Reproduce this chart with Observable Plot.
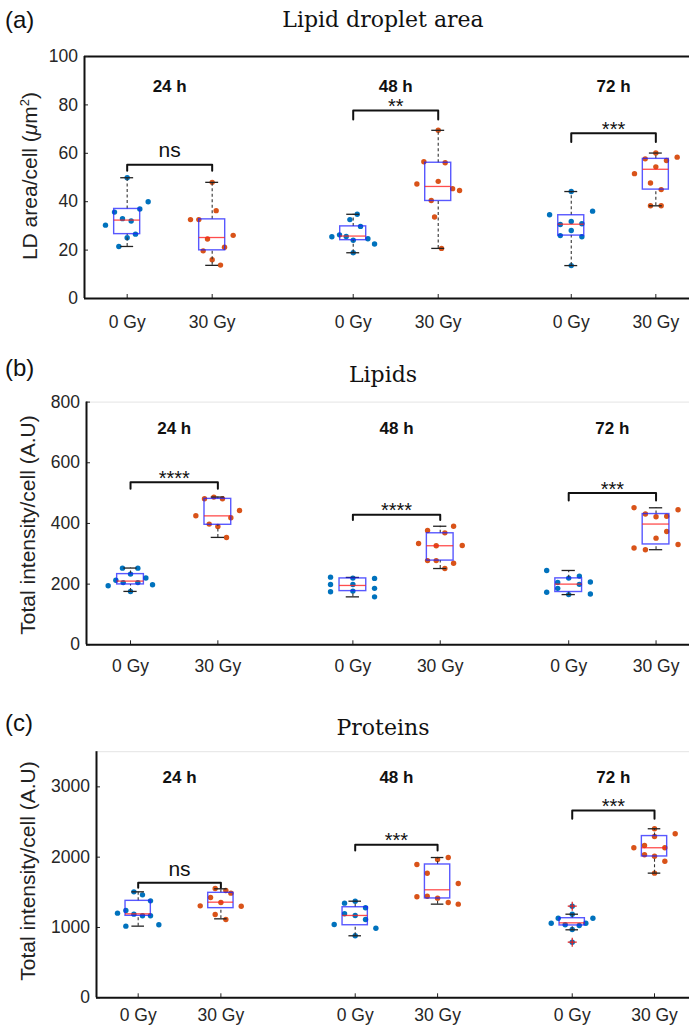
<!DOCTYPE html>
<html><head><meta charset="utf-8">
<script src="https://cdn.jsdelivr.net/npm/d3@7"></script>
<script src="https://cdn.jsdelivr.net/npm/@observablehq/plot@0.6"></script>
<style>
html,body{margin:0;padding:0;background:#fff;overflow:hidden}
#fig{position:relative;width:689px;height:1026px}
#fig > svg{position:absolute;left:0}
</style></head><body><div id="fig"></div>
<script>
// ---------------- data ----------------
const doseLabels = ["0 Gy", "30 Gy", "0 Gy", "30 Gy", "0 Gy", "30 Gy"];
const timeLabels = ["24 h", "48 h", "72 h"];

// (a) Lipid droplet area, LD area/cell (µm²); groups: 24h 0Gy, 24h 30Gy, 48h 0Gy, 48h 30Gy, 72h 0Gy, 72h 30Gy
const ldAreaValues = [
  [49.9, 40.0, 37.0, 35.7, 33.0, 32.0, 30.3, 26.6, 25.1, 21.5],
  [48.0, 36.3, 32.6, 32.6, 26.1, 24.6, 21.2, 19.7, 16.0, 13.8],
  [34.8, 32.6, 29.8, 25.5, 26.3, 25.6, 24.1, 24.7, 22.5, 18.9],
  [69.5, 56.5, 56.1, 48.4, 47.3, 45.4, 44.6, 40.5, 33.7, 20.7],
  [44.2, 34.6, 36.1, 30.6, 31.8, 30.9, 28.1, 26.0, 25.5, 13.6],
  [60.1, 57.7, 57.0, 58.4, 54.4, 51.6, 47.7, 45.0, 38.3, 38.3]
];
const ldAreaJitter = [
  [0, .247, .149, -.149, -.055, .047, -.255, .098, 0, -.098],
  [0, .047, -.255, -.157, .247, -.055, .145, -.106, 0, .098],
  [.047, -.039, .086, -.251, -.161, -.082, 0, .173, .251, 0],
  [0, -.169, .082, 0, -.251, .169, .251, -.082, -.043, .039],
  [0, -.255, .251, -.129, 0, .125, 0, -.129, .125, 0],
  [0, -.125, .125, .251, 0, -.251, -.063, .063, -.063, .063]
];
const ldAreaQ1 = [26.6, 19.9, 24.1, 40.3, 26.0, 45.0];
const ldAreaMedian = [32.4, 25.2, 25.8, 46.3, 30.7, 53.4];
const ldAreaQ3 = [37.0, 32.7, 29.8, 56.1, 34.4, 57.7];
const ldAreaLow = [21.5, 13.7, 18.9, 20.7, 13.6, 38.3];
const ldAreaHigh = [49.9, 48.0, 34.8, 69.5, 44.2, 60.1];
const ldAreaSig = ["ns", "**", "***"];
const ldAreaBracket = [55.3, 77.7, 68.3];
const ldAreaBracketLeg = [52.8, 74.0, 64.7];
const ldAreaTicks = [0, 20, 40, 60, 80, 100];

// (b) Lipids, total intensity/cell (A.U)
const lipidValues = [
  [252.7, 252.7, 233, 213, 220, 205, 205, 194.5, 197.8, 175.8],
  [481.3, 486.8, 481.3, 442.9, 425.3, 418.7, 397.8, 390.1, 353.8],
  [223, 199, 175, 219.8, 199, 177, 218.8, 186, 158],
  [390.8, 376.6, 369, 334, 326.5, 327.5, 277.6, 277.6, 268.8, 251.4],
  [244.9, 219.8, 226.4, 205.7, 199.2, 186.1, 206.8, 173, 167.5, 165.5],
  [451.6, 445, 431, 422, 423.5, 373.3, 351.6, 319, 330.8, 313.5]
];
const lipidJitter = [
  [-.092, .084, 0, -.168, .176, -.084, .084, -.256, .252, 0],
  [-.153, -.046, .053, .248, -.252, .149, -.099, 0, .099],
  [-.256, -.256, -.256, 0, 0, 0, .248, .248, .248],
  [.153, -.145, .053, -.248, -.046, .252, -.145, -.046, .153, .053],
  [-.252, 0, .122, -.126, .122, -.126, .248, -.252, .248, 0],
  [-.252, .252, -.122, 0, .122, .122, 0, -.252, .252, -.122]
];
const lipidQ1 = [199, 395.6, 177, 277.6, 174, 330.8];
const lipidMedian = [210, 425, 195.6, 326.5, 200, 398];
const lipidQ3 = [233, 481, 218.8, 367.6, 219, 431];
const lipidLow = [176, 354, 158, 251.4, 165.5, 313.5];
const lipidHigh = [253, 487, 222, 390.8, 245, 451.6];
const lipidSig = ["****", "****", "***"];
const lipidBracket = [536, 429, 500];
const lipidBracketLeg = [514, 411, 476];
const lipidTicks = [0, 200, 400, 600, 800];

// (c) Proteins, total intensity/cell (A.U)
const proteinValues = [
  [1507, 1464, 1379, 1242, 1204, 1190, 1166, 1166, 1019, 1038],
  [1554, 1526, 1488, 1427, 1308, 1355, 1303, 1185, 1114],
  [1374, 1346, 1280, 1195, 1171, 1114, 1043, 990, 882],
  [1967, 1995, 1896, 1772, 1626, 1437, 1445, 1417, 1356, 1332],
  [1303, 1189, 1132, 1132, 1061, 1038, 1029, 1061, 972, 791],
  [2404, 2295, 2333, 2167, 2134, 2134, 2034, 2014, 1943, 1773]
];
const proteinJitter = [
  [-.052, .052, .149, -.149, -.25, -.052, .052, .149, -.149, .25],
  [-.069, .06, .121, -.125, -.25, 0, .246, -.069, .06],
  [0, -.129, .125, -.129, 0, .125, -.254, .25, 0],
  [0, .129, -.25, -.125, .25, -.25, -.125, 0, .129, .25],
  [0, 0, -.169, .25, -.254, -.085, .085, .165, 0, 0],
  [0, 0, .25, -.121, .125, -.25, -.121, 0, .125, 0]
];
const proteinQ1 = [1166, 1275, 1032, 1413, 1029, 2010];
const proteinMedian = [1194, 1360, 1171, 1536, 1066, 2134];
const proteinQ3 = [1379, 1493, 1288, 1896, 1132, 2300];
const proteinLow = [1019, 1123, 882, 1332, 967, 1773];
const proteinHigh = [1507, 1550, 1374, 1995, 1189, 2404];
const proteinOutliers = [{group: 4, value: 1303}, {group: 4, value: 791}];
const proteinSig = ["ns", "***", "***"];
const proteinBracket = [1635, 2176, 2664];
const proteinBracketLeg = [1565, 2095, 2546];
const proteinTicks = [0, 1000, 2000, 3000];

// ---------------- layout / style ----------------
const SANS = "'Liberation Sans', Arial, Helvetica, sans-serif";
const SERIF = "'DejaVu Serif', 'Liberation Serif', serif";
const DOSE_COLOR = ["#0072BD", "#D95319"];
const W = 689;

function boxPanel(o) {
  const {values, jitter, q1, med, q3, lo, hi, sig, bracket, leg, slots, xDomain, marginLeft,
         yDomain, yTicks, top, height, marginTop, marginBottom, timeY, frameTop, frameColor,
         xLabelPad = 13, outliers = []} = o;
  const BW = 0.153, CW = 0.076;
  const points = values.flatMap((vs, g) => vs.map((v, i) => ({x: slots[g] + jitter[g][i], v, c: DOSE_COLOR[g % 2]})));
  const boxes = slots.map((x, g) => ({x, q1: q1[g], med: med[g], q3: q3[g], lo: lo[g], hi: hi[g]}));
  const brk = sig.flatMap((s, t) => {
    const a = slots[2 * t], b = slots[2 * t + 1];
    return [{t, x: a, y: leg[t]}, {t, x: a, y: bracket[t]}, {t, x: b, y: bracket[t]}, {t, x: b, y: leg[t]}];
  });
  const sigText = sig.map((s, t) => ({x: (slots[2 * t] + slots[2 * t + 1]) / 2, y: bracket[t], s}));
  const times = timeLabels.map((s, t) => ({x: (slots[2 * t] + slots[2 * t + 1]) / 2, y: timeY, s}));
  const outs = outliers.map(d => ({x: slots[d.group], y: d.value}));
  const svg = Plot.plot({
    width: W, height, marginLeft, marginRight: 0, marginTop, marginBottom,
    x: {domain: xDomain, label: null},
    y: {domain: yDomain, label: null},
    style: {fontFamily: SANS, color: "#262626", background: "transparent", overflow: "visible"},
    marks: [
      Plot.ruleY([yDomain[1]], {stroke: frameColor, strokeWidth: frameTop}),
      Plot.dot(points, {x: "x", y: "v", r: 2.7, fill: "c", stroke: null}),
      Plot.ruleX(boxes, {x: "x", y1: "q3", y2: "hi", stroke: "#333", strokeWidth: 1.1, strokeDasharray: "3,2.5"}),
      Plot.ruleX(boxes, {x: "x", y1: "lo", y2: "q1", stroke: "#333", strokeWidth: 1.1, strokeDasharray: "3,2.5"}),
      Plot.ruleY(boxes, {y: "hi", x1: d => d.x - CW, x2: d => d.x + CW, stroke: "#222", strokeWidth: 1.3}),
      Plot.ruleY(boxes, {y: "lo", x1: d => d.x - CW, x2: d => d.x + CW, stroke: "#222", strokeWidth: 1.3}),
      Plot.rect(boxes, {x1: d => d.x - BW, x2: d => d.x + BW, y1: "q1", y2: "q3", fill: "none", stroke: "#2020ff", strokeOpacity: 0.75, strokeWidth: 1.4}),
      Plot.ruleY(boxes, {y: "med", x1: d => d.x - BW, x2: d => d.x + BW, stroke: "#ff2020", strokeOpacity: 0.8, strokeWidth: 1.3}),
      Plot.dot(outs, {x: "x", y: "y", symbol: "plus", r: 3, stroke: "#e02020", strokeWidth: 1.2}),
      Plot.line(brk, {x: "x", y: "y", z: "t", stroke: "#111", strokeWidth: 2, curve: "linear"}),
      Plot.text(sigText.filter(d => d.s === "ns"), {x: "x", y: "y", text: "s", fontSize: 21, fill: "#111", dy: -14}),
      Plot.text(sigText.filter(d => d.s !== "ns"), {x: "x", y: "y", text: "s", fontSize: 20, fill: "#111", dy: -4}),
      Plot.text(times, {x: "x", y: "y", text: "s", fontSize: 17, fontWeight: "bold", fill: "#111"}),
      Plot.axisY({ticks: yTicks, tickFormat: d => String(d), tickSize: -4, tickPadding: 10.5, fontSize: 17.5, stroke: "#222"}),
      Plot.axisX({ticks: slots, tickFormat: d => doseLabels[slots.indexOf(d)], tickSize: -4, tickPadding: xLabelPad, fontSize: 17.5, stroke: "#222"}),
      Plot.ruleX([xDomain[0]], {stroke: "#111", strokeWidth: 2}),
      Plot.ruleY([yDomain[0]], {stroke: "#111", strokeWidth: 2})
    ]
  });
  svg.style.top = top + "px";
  return svg;
}

const fig = document.getElementById("fig");

fig.appendChild(boxPanel({
  values: ldAreaValues, jitter: ldAreaJitter, q1: ldAreaQ1, med: ldAreaMedian, q3: ldAreaQ3,
  lo: ldAreaLow, hi: ldAreaHigh, sig: ldAreaSig, bracket: ldAreaBracket, leg: ldAreaBracketLeg,
  slots: [0, 1, 2.659, 3.659, 5.224, 6.219], xDomain: [-0.502, 6.615], marginLeft: 84,
  yDomain: [0, 100], yTicks: ldAreaTicks, top: 40, height: 310, marginTop: 16, marginBottom: 52,
  timeY: 87.5, frameTop: 2, frameColor: "#111", xLabelPad: 21
}));

fig.appendChild(boxPanel({
  values: lipidValues, jitter: lipidJitter, q1: lipidQ1, med: lipidMedian, q3: lipidQ3,
  lo: lipidLow, hi: lipidHigh, sig: lipidSig, bracket: lipidBracket, leg: lipidBracketLeg,
  slots: [0, 1, 2.546, 3.546, 5.017, 6.017], xDomain: [-0.504, 6.40], marginLeft: 86,
  yDomain: [0, 800], yTicks: lipidTicks, top: 385, height: 310, marginTop: 16.6, marginBottom: 50.7,
  timeY: 714, frameTop: 1, frameColor: "#e4e4e4", xLabelPad: 19
}));

fig.appendChild(boxPanel({
  values: proteinValues, jitter: proteinJitter, q1: proteinQ1, med: proteinMedian, q3: proteinQ3,
  lo: proteinLow, hi: proteinHigh, sig: proteinSig, bracket: proteinBracket, leg: proteinBracketLeg,
  slots: [0, 1, 2.624, 3.62, 5.248, 6.243], xDomain: [-0.504, 6.666], marginLeft: 96,
  yDomain: [0, 3500], yTicks: proteinTicks, top: 735, height: 291, marginTop: 16.2, marginBottom: 28.7,
  timeY: 3134, frameTop: 1, frameColor: "#e4e4e4", outliers: proteinOutliers, xLabelPad: 15
}));

// ---------------- titles and y labels ----------------
const ann = document.createElementNS("http://www.w3.org/2000/svg", "svg");
ann.setAttribute("width", W); ann.setAttribute("height", 1026);
ann.style.top = "0px"; ann.style.pointerEvents = "none";
ann.innerHTML = `
<g font-family="${SANS}" fill="#111">
  <text x="5" y="28" font-size="24">(a)</text>
  <text x="5" y="376" font-size="24">(b)</text>
  <text x="5" y="731" font-size="24">(c)</text>
</g>
<g font-family="${SERIF}" fill="#111" text-anchor="middle" font-size="22">
  <text x="383" y="27">Lipid droplet area</text>
  <text x="383" y="382">Lipids</text>
  <text x="383" y="735">Proteins</text>
</g>
<g font-family="${SANS}" fill="#222" text-anchor="middle" font-size="21">
  <text transform="translate(37,176) rotate(-90)">LD area/cell (<tspan font-style="italic">μ</tspan>m<tspan font-size="13" dy="-8">2</tspan><tspan dy="8">)</tspan></text>
  <text transform="translate(35,525) rotate(-90)">Total intensity/cell (A.U)</text>
  <text transform="translate(35,871) rotate(-90)">Total intensity/cell (A.U)</text>
</g>`;
fig.appendChild(ann);
</script></body></html>
